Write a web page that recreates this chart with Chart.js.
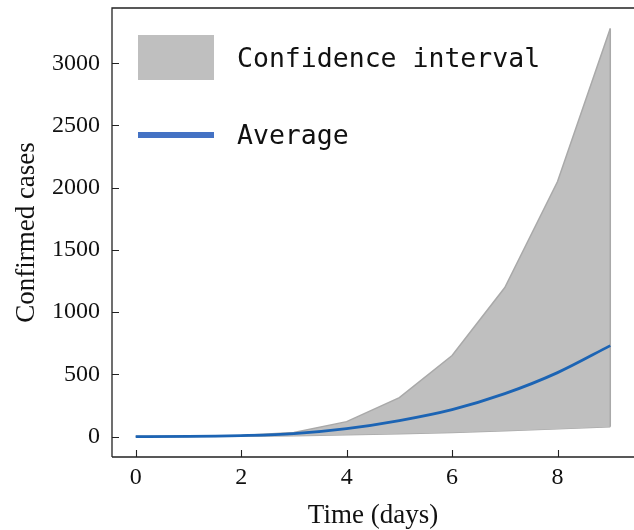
<!DOCTYPE html>
<html><head><meta charset="utf-8">
<script src="https://cdn.jsdelivr.net/npm/chart.js@4/dist/chart.umd.min.js"></script>
<style>html,body{margin:0;padding:0;background:#fff}#wrap{width:634px;height:530px;position:relative}</style>
</head><body><div id="wrap"><canvas id="c" width="634" height="530"></canvas></div>
<script>
const days = [0,1,2,3,4,5,6,7,8,9];
const upperBound = [0,1,8,32,120,313,651,1198,2050,3280];
const lowerBound = [0,0.5,3,7,14,22,33,46,62,80];
const average = [0,1,8,24,64,129,217,345,514,731];
const xTicks = [0,2,4,6,8];
const yTicks = [0,500,1000,1500,2000,2500,3000];
const legendLabels = ['Confidence interval','Average'];

const pts = arr => days.map((d,i)=>({x:d,y:arr[i]}));
const serif = "'Liberation Serif', 'DejaVu Serif', serif";

const bandEdgePlugin = {
  id:'bandEdge',
  afterDatasetDraw(chart, args){
    if (args.index !== 1) return;
    const {ctx, scales} = chart;
    const last = days.length-1;
    const px = scales.x.getPixelForValue(days[last]);
    ctx.save();
    ctx.strokeStyle='#a9a9a9'; ctx.lineWidth=1.5;
    ctx.beginPath();
    ctx.moveTo(px, scales.y.getPixelForValue(lowerBound[last]));
    ctx.lineTo(px, scales.y.getPixelForValue(upperBound[last]));
    ctx.stroke();
    ctx.restore();
  }
};

const framePlugin = {
  id:'frame',
  afterDraw(chart){
    const {ctx, chartArea:a, scales} = chart;
    ctx.save();
    ctx.strokeStyle='#222'; ctx.lineWidth=1.3;
    ctx.beginPath();
    ctx.moveTo(a.left, a.bottom); ctx.lineTo(a.left, a.top); ctx.lineTo(a.right+2, a.top);
    ctx.moveTo(a.left, a.bottom); ctx.lineTo(a.right+2, a.bottom);
    ctx.stroke();
    ctx.lineWidth=1.1;
    ctx.beginPath();
    xTicks.forEach(v=>{const px=Math.round(scales.x.getPixelForValue(v))+0.5; ctx.moveTo(px,a.bottom); ctx.lineTo(px,a.bottom-7);});
    yTicks.forEach(v=>{const py=Math.round(scales.y.getPixelForValue(v))+0.5; ctx.moveTo(a.left,py); ctx.lineTo(a.left+7,py);});
    ctx.stroke();
    // legend
    ctx.fillStyle='#bfbfbf';
    ctx.fillRect(138,35,76,45);
    ctx.fillStyle='#4472c4';
    ctx.fillRect(138,132,76,6);
    ctx.fillStyle='#111';
    ctx.font="26.5px 'DejaVu Sans Mono', monospace";
    ctx.textBaseline='middle';
    ctx.fillText(legendLabels[0],237,60);
    ctx.fillText(legendLabels[1],237,137);
    ctx.restore();
  }
};

new Chart(document.getElementById('c'),{
  type:'line',
  data:{datasets:[
    {label:'lower',data:pts(lowerBound),borderColor:'#a9a9a9',borderWidth:1.5,pointRadius:0,fill:false,tension:0,order:2},
    {label:legendLabels[0],data:pts(upperBound),borderColor:'#a9a9a9',borderWidth:1.5,pointRadius:0,fill:'-1',backgroundColor:'#bfbfbf',tension:0,order:1},
    {label:legendLabels[1],data:pts(average),borderColor:'#1c64b4',borderWidth:2.8,pointRadius:0,fill:false,cubicInterpolationMode:'monotone',order:0}
  ]},
  options:{
    responsive:false,animation:false,
    layout:{padding:{top:8,right:0,left:0,bottom:-2}},
    plugins:{legend:{display:false},tooltip:{enabled:false}},
    scales:{
      x:{type:'linear',min:-0.45,max:9.45,
        afterBuildTicks(s){s.ticks=xTicks.map(v=>({value:v}));},
        afterFit(s){s.height=75; s.paddingLeft=0; s.paddingRight=0;},
        grid:{display:false,drawTicks:false},border:{display:false},
        ticks:{color:'#111',font:{family:serif,size:24},padding:6,maxRotation:0,callback:v=>String(v)},
        title:{display:true,text:'Time (days)',color:'#111',font:{family:serif,size:27},padding:{top:8,bottom:0}}
      },
      y:{type:'linear',min:-164,max:3444,
        afterBuildTicks(s){s.ticks=yTicks.map(v=>({value:v}));},
        afterFit(s){s.width=112; s.paddingTop=0; s.paddingBottom=0;},
        grid:{display:false,drawTicks:false},border:{display:false},
        ticks:{color:'#111',font:{family:serif,size:24},padding:12,callback:v=>String(v)},
        title:{display:true,text:'Confirmed cases',color:'#111',font:{family:serif,size:27},padding:{top:11,bottom:0}}
      }
    }
  },
  plugins:[bandEdgePlugin, framePlugin]
});
</script></body></html>
